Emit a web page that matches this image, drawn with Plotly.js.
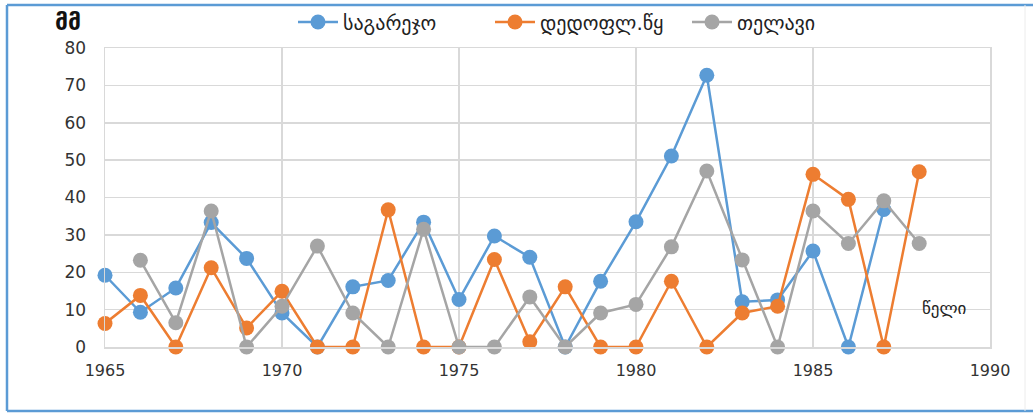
<!DOCTYPE html>
<html>
<head>
<meta charset="utf-8">
<script src="https://cdn.plot.ly/plotly-3.0.1.min.js"></script>
<style>
  html, body { margin: 0; padding: 0; background: #ffffff; }
  #chart { width: 1033px; height: 414px; }
</style>
</head>
<body>
<div id="chart"></div>
<script>
// ---- data ----
const years = [1965,1966,1967,1968,1969,1970,1971,1972,1973,1974,1975,1976,1977,1978,1979,1980,1981,1982,1983,1984,1985,1986,1987,1988];
const sagarejo = [19.2,9.3,15.8,33.3,23.7,9.1,0,16.1,17.8,33.4,12.7,29.7,24.0,0,17.6,33.5,51.1,72.7,12.1,12.6,25.7,0,36.8,null];
const dedoplistskaro = [6.3,13.8,0,21.2,5.1,14.9,0,0,36.7,0,0,23.4,1.4,16.1,0,0,17.6,0,9.1,10.9,46.2,39.5,0,46.9];
const telavi = [null,23.2,6.5,36.4,0,10.9,27.0,9.1,0,31.5,0,0,13.4,0,9.1,11.4,26.8,47.1,23.3,0,36.4,27.7,39.1,27.7];
const seriesNames = ["საგარეჯო","დედოფლ.წყ","თელავი"];
const seriesColors = ["#5B9BD5","#ED7D31","#A5A5A5"];
const xTicks = [1965,1970,1975,1980,1985,1990];
const yTicks = [0,10,20,30,40,50,60,70,80];
const yUnit = "მმ";
const xUnit = "წელი";

// ---- layout geometry (pixels) ----
const W = 1033, H = 414;
const M = {l: 105, r: 43, t: 48, b: 67};
const pw = W - M.l - M.r, ph = H - M.t - M.b;
const px = x => (x - M.l) / pw;          // pixel -> paper x
const py = y => (H - M.b - y) / ph;      // pixel -> paper y

const allSeries = [sagarejo, dedoplistskaro, telavi];
const traces = allSeries.map((vals, i) => ({
  type: 'scatter',
  mode: 'lines+markers',
  x: years,
  y: vals,
  name: seriesNames[i],
  connectgaps: false,
  cliponaxis: false,
  line: {color: seriesColors[i], width: 2.5},
  marker: {color: seriesColors[i], size: 15}
}));

const frameColor = '#5B9BD5';
const layout = {
  width: W, height: H,
  margin: Object.assign({autoexpand: false}, M),
  paper_bgcolor: '#ffffff',
  plot_bgcolor: '#ffffff',
  showlegend: true,
  legend: {
    orientation: 'h',
    x: px(293), xanchor: 'left',
    y: py(22), yanchor: 'middle',
    font: {family: 'DejaVu Sans, Noto Sans, sans-serif', size: 20, color: '#222'},
    entrywidth: 142,
    entrywidthmode: 'pixels',
    itemwidth: 40,
    bgcolor: 'rgba(0,0,0,0)'
  },
  xaxis: {
    range: [1965, 1990],
    tickvals: xTicks,
    ticktext: xTicks.map(String),
    showgrid: true,
    gridcolor: '#d9d9d9',
    gridwidth: 1.5,
    zeroline: false,
    showline: true,
    mirror: true,
    linecolor: '#d9d9d9',
    linewidth: 1.5,
    ticks: 'outside',
    ticklen: 8,
    tickcolor: 'rgba(0,0,0,0)',
    tickfont: {family: 'DejaVu Sans, sans-serif', size: 16, color: '#333'},
    fixedrange: true
  },
  yaxis: {
    range: [0, 80],
    tickvals: yTicks,
    ticktext: yTicks.map(String),
    showgrid: true,
    gridcolor: '#d9d9d9',
    gridwidth: 1.5,
    zeroline: false,
    showline: true,
    mirror: true,
    linecolor: '#d9d9d9',
    linewidth: 1.5,
    ticks: 'outside',
    ticklen: 14,
    tickcolor: 'rgba(0,0,0,0)',
    tickfont: {family: 'DejaVu Sans, sans-serif', size: 17, color: '#333'},
    fixedrange: true
  },
  annotations: [
    {text: yUnit, xref: 'paper', yref: 'paper', x: px(68), y: py(22), xanchor: 'center', yanchor: 'middle',
     showarrow: false, font: {family: 'DejaVu Sans, sans-serif', size: 23, color: '#111', weight: 'bold'}},
    {text: xUnit, xref: 'paper', yref: 'paper', x: px(944), y: py(308), xanchor: 'center', yanchor: 'middle',
     showarrow: false, font: {family: 'DejaVu Sans, sans-serif', size: 17, color: '#222'}}
  ],
  shapes: [
    {type: 'line', xref: 'paper', yref: 'paper', x0: px(7), x1: px(7), y0: py(5), y1: py(411), line: {color: frameColor, width: 2.5}},
    {type: 'line', xref: 'paper', yref: 'paper', x0: px(7), x1: px(1033), y0: py(5), y1: py(5), line: {color: frameColor, width: 2.5}},
    {type: 'line', xref: 'paper', yref: 'paper', x0: px(7), x1: px(1033), y0: py(411), y1: py(411), line: {color: frameColor, width: 2.5}},
    {type: 'line', xref: 'paper', yref: 'paper', x0: px(1025), x1: px(1025), y0: py(5), y1: py(411), line: {color: '#ececec', width: 1}}
  ]
};

Plotly.newPlot('chart', traces, layout, {staticPlot: true, displayModeBar: false});
</script>
</body>
</html>
